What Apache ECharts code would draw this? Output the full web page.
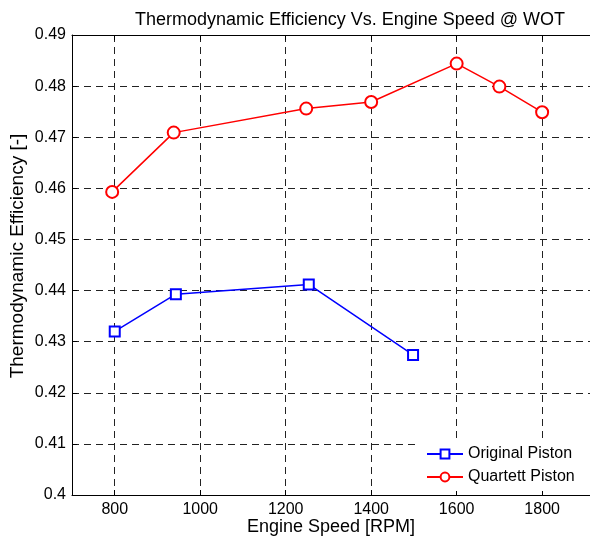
<!DOCTYPE html>
<html>
<head>
<meta charset="utf-8">
<script src="https://cdn.jsdelivr.net/npm/echarts@6/dist/echarts.min.js"></script>
<style>
  html, body { margin: 0; padding: 0; background: #fff; }
  #efficiency-chart { width: 590px; height: 540px; }
</style>
</head>
<body>
<div id="efficiency-chart"></div>
<script>
// engine speed [RPM] and thermodynamic efficiency [-]
const speedOriginal = [800, 943, 1254, 1498];
const effOriginal = [0.432, 0.4393, 0.4412, 0.4274];
const speedQuartet = [794, 938, 1248, 1400, 1600, 1700, 1800];
const effQuartet = [0.4593, 0.4709, 0.4756, 0.4769, 0.4844, 0.4799, 0.4749];
const speedTicks = [800, 1000, 1200, 1400, 1600, 1800];
const seriesNames = ["Original Piston", "Quartett Piston"];

const font = "'Liberation Sans', Arial, sans-serif";

function toPairs(xs, ys) {
  let out = [];
  for (let i = 0; i < xs.length; i++) {
    out.push([xs[i], ys[i]]);
  }
  return out;
}

let myChart = echarts.init(document.getElementById("efficiency-chart"));

let gridDash = {
  show: true,
  lineStyle: { color: "#222", width: 1, type: [7, 5] }
};

let option = {
  backgroundColor: "#fff",
  animation: false,
  textStyle: { fontFamily: font },
  title: {
    text: "Thermodynamic Efficiency Vs. Engine Speed @ WOT",
    left: 345,
    top: 6,
    textAlign: "center",
    textStyle: { fontFamily: font, fontSize: 18, fontWeight: "normal", color: "#000" }
  },
  graphic: [
    {
      type: "text",
      x: 331,
      y: 527,
      style: {
        text: "Engine Speed [RPM]",
        font: "18px " + font,
        fill: "#000",
        textAlign: "center",
        textVerticalAlign: "middle"
      }
    },
    {
      type: "text",
      x: 18,
      y: 256,
      rotation: Math.PI / 2,
      style: {
        text: "Thermodynamic Efficiency [-]",
        font: "19px " + font,
        fill: "#000",
        textAlign: "center",
        textVerticalAlign: "middle"
      }
    }
  ],
  legend: {
    data: seriesNames,
    orient: "vertical",
    left: 420,
    top: 439,
    padding: [7, 30, 6, 6],
    backgroundColor: "#fff",
    itemWidth: 36,
    itemHeight: 11,
    itemGap: 7,
    textStyle: { fontFamily: font, fontSize: 16, color: "#000", lineHeight: 16 }
  },
  grid: {
    left: 72,
    right: 0,
    top: 35,
    bottom: 45,
    containLabel: false
  },
  xAxis: [
    {
      type: "value",
      min: 700,
      max: 1912,
      axisLine: { show: true, onZero: false, lineStyle: { color: "#000", width: 1 } },
      axisTick: { show: true, inside: true, length: 5, customValues: speedTicks, lineStyle: { color: "#000" } },
      axisLabel: {
        customValues: speedTicks,
        margin: 7,
        fontSize: 16,
        color: "#000",
        fontFamily: font,
        formatter: function (v) {
          return String(v);
        }
      },
      splitLine: gridDash
    },
    {
      type: "value",
      position: "top",
      min: 700,
      max: 1912,
      axisLine: { show: true, onZero: false, lineStyle: { color: "#000", width: 1 } },
      axisTick: { show: true, inside: true, length: 5, customValues: speedTicks, lineStyle: { color: "#000" } },
      axisLabel: { show: false },
      splitLine: { show: false }
    }
  ],
  yAxis: {
    type: "value",
    min: 0.4,
    max: 0.49,
    interval: 0.01,
    axisLine: { show: true, onZero: false, lineStyle: { color: "#000", width: 1 } },
    axisTick: { show: true, inside: true, length: 5, lineStyle: { color: "#000" } },
    axisLabel: {
      margin: 6,
      fontSize: 16,
      color: "#000",
      fontFamily: font,
      formatter: function (v) {
        return parseFloat(v.toFixed(2)).toString();
      }
    },
    splitLine: gridDash
  },
  series: [
    {
      name: seriesNames[0],
      type: "line",
      data: toPairs(speedOriginal, effOriginal),
      symbol: "emptyRect",
      symbolSize: 10,
      lineStyle: { color: "#0000ff", width: 1.5 },
      itemStyle: { color: "#0000ff", borderWidth: 1.5 }
    },
    {
      name: seriesNames[1],
      type: "line",
      data: toPairs(speedQuartet, effQuartet),
      symbol: "emptyCircle",
      symbolSize: 12,
      lineStyle: { color: "#ff0000", width: 1.5 },
      itemStyle: { color: "#ff0000", borderWidth: 1.5 }
    }
  ]
};

myChart.setOption(option);
</script>
</body>
</html>
